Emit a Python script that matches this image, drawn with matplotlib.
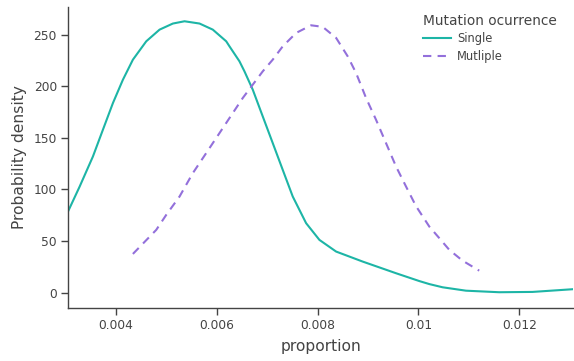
import matplotlib
matplotlib.use('Agg')
import matplotlib.pyplot as plt
from matplotlib.ticker import FuncFormatter

# values
single_x = [0.00305, 0.00328, 0.003544, 0.003742, 0.003941, 0.004139, 0.004337, 0.004602,
            0.004866, 0.00513, 0.005361, 0.005659, 0.005922, 0.006188, 0.006253, 0.006451,
            0.00655, 0.006715, 0.006913, 0.007111, 0.007309, 0.007508, 0.007773, 0.008037,
            0.008368, 0.008895, 0.009557, 0.01002, 0.010217, 0.01048, 0.010944,
            0.011603, 0.012264, 0.013056]
single_y = [78.6, 102.7, 131.9, 157.8, 183.7, 206.3, 225.7, 243.5, 254.8, 260.7, 262.9,
            260.7, 254.8, 243.5, 238.6, 224.1, 214.4, 196.6, 170.7, 144.9, 119, 93.1, 67.3,
            51.1, 39.8, 30.1, 18.8, 11.2, 8.3, 5.2, 1.9, 0.4, 0.7, 3.3]

multiple_x = [0.004337, 0.0048, 0.004999, 0.005262, 0.005526, 0.005791, 0.006055, 0.006319,
              0.006517, 0.006715, 0.006913, 0.007111, 0.007309, 0.007575, 0.007872, 0.008102,
              0.008368, 0.008597, 0.008764, 0.008962, 0.00916, 0.009358, 0.009557, 0.009755,
              0.009953, 0.010217, 0.010415, 0.010614, 0.010876, 0.011207]
multiple_y = [37.5, 60.8, 75.4, 93.1, 115.8, 135.2, 154.6, 174, 188.6, 201.5, 214.4, 225.7,
              238.6, 251.6, 259, 257.5, 246.8, 229, 212.8, 188.6, 167.5, 144.9, 122.2, 102.8,
              83.8, 64, 52.8, 41.4, 31, 21.3]

plt.rcParams['font.family'] = ['DejaVu Sans']

fig = plt.figure(figsize=(5.74, 3.61), dpi=100)
ax = fig.add_axes([0.1185, 0.1476, 0.8800, 0.8338])

ax.plot(single_x, single_y, color='#1db5a6', lw=1.5, label='Single')
ax.plot(multiple_x, multiple_y, color='#9370db', lw=1.5, ls=(0, (4, 3)), label='Mutliple')

ax.set_xlim(0.00305, 0.01307)
ax.set_ylim(-14.6, 277)
ax.set_xticks([0.004, 0.006, 0.008, 0.01, 0.012])
ax.set_yticks([0, 50, 100, 150, 200, 250])
ax.xaxis.set_major_formatter(FuncFormatter(lambda v, p: '%g' % v))

for s in ['top', 'right']:
    ax.spines[s].set_visible(False)
for s in ['left', 'bottom']:
    ax.spines[s].set_color('#444444')
    ax.spines[s].set_linewidth(1.0)
ax.tick_params(colors='#444444', labelsize=8.8, length=5, width=1, pad=3)

ax.set_xlabel('proportion', fontsize=11.2, color='#444444', labelpad=5)
ax.set_ylabel('Probability density', fontsize=11.2, color='#444444', labelpad=5)

leg = ax.legend(title='Mutation ocurrence', loc='upper left', bbox_to_anchor=(0.69, 1.0),
                frameon=False, fontsize=8.3, title_fontsize=9.9, handlelength=2.4,
                handletextpad=0.5, labelspacing=0.45, borderaxespad=0.2)
leg._legend_box.align = 'left'
leg._legend_box.sep = 3
for t in leg.get_texts():
    t.set_color('#444444')
leg.get_title().set_color('#444444')

fig.savefig('out.png', dpi=100)
